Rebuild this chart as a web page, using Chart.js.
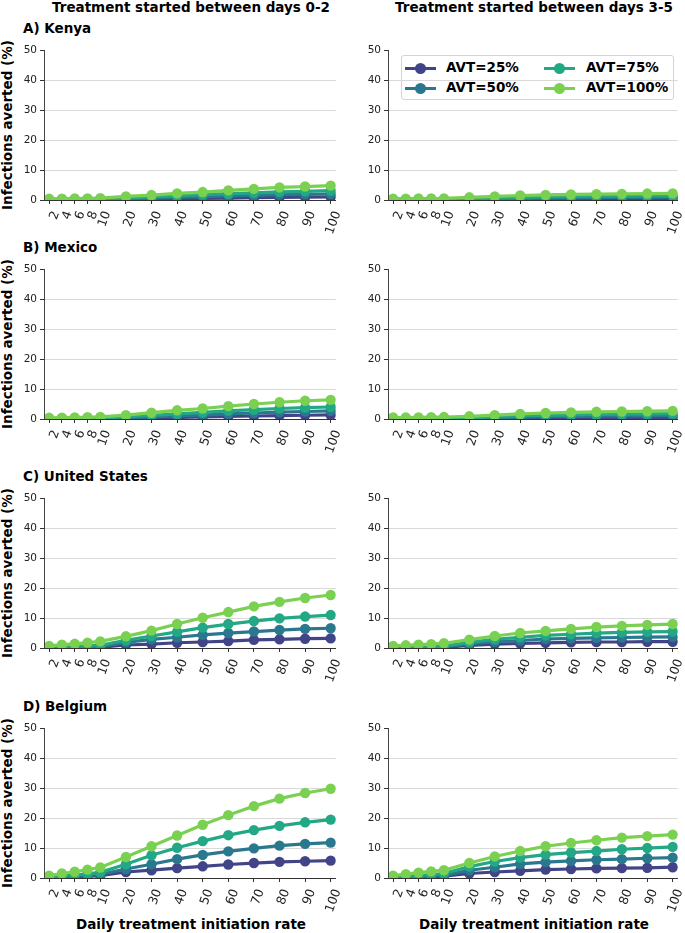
<!DOCTYPE html>
<html>
<head>
<meta charset="utf-8">
<script src="https://cdn.jsdelivr.net/npm/chart.js@4.4.1/dist/chart.umd.min.js"></script>
<style>
    body { margin: 0; width: 685px; height: 933px; position: relative; overflow: hidden; background: #fff; font-family: "DejaVu Sans", sans-serif; color: #000; }
    .lbl { position: absolute; font-weight: bold; font-size: 13.5px; white-space: nowrap; line-height: 1; transform: translate(-50%, -50%); }
    .panel-lbl { position: absolute; font-weight: bold; font-size: 13.5px; white-space: nowrap; line-height: 1; transform: translateY(-50%); }
    .panel { position: absolute; }
    #legend { position: absolute; left: 401px; top: 55px; width: 271px; height: 43px; border: 1px solid #d4d4d4; border-radius: 3px; background: rgba(255,255,255,0.85); }
    .leg-line { position: absolute; height: 3px; width: 31px; }
    .leg-dot { position: absolute; width: 11px; height: 11px; border-radius: 50%; left: 10px; top: -4px; }
    .leg-txt { position: absolute; font-weight: bold; font-size: 13.5px; line-height: 1; white-space: nowrap; transform: translateY(-50%); }
</style>
</head>
<body>
<div id="legend"></div>
<script>
// x categories (daily treatment initiation rate) and tick labels
const rates = [2, 4, 6, 8, 10, 20, 30, 40, 50, 60, 70, 80, 90, 100];
const rateLabels = rates.map(String);
const yTicks = [0, 10, 20, 30, 40, 50];

const seriesNames = ['AVT=25%', 'AVT=50%', 'AVT=75%', 'AVT=100%'];
const seriesColors = ['#414487', '#2a788e', '#22a884', '#7ad151'];

const colTitles = ['Treatment started between days 0-2', 'Treatment started between days 3-5'];
const rowTitles = ['A) Kenya', 'B) Mexico', 'C) United States', 'D) Belgium'];

// infections averted (%) — one row per AVT level
const kenya02 = [
    [0, 0.05, 0.05, 0.1, 0.1, 0.2, 0.3, 0.4, 0.55, 0.65, 0.75, 0.85, 0.95, 1.0],
    [0.05, 0.1, 0.1, 0.15, 0.2, 0.4, 0.6, 0.9, 1.1, 1.4, 1.6, 1.8, 1.9, 2.0],
    [0.1, 0.15, 0.2, 0.25, 0.3, 0.6, 1.0, 1.4, 1.8, 2.1, 2.4, 2.7, 2.9, 3.1],
    [0.4, 0.45, 0.5, 0.55, 0.6, 1.2, 1.65, 2.2, 2.65, 3.2, 3.7, 4.2, 4.5, 4.8]
];
const kenya35 = [
    [0, 0.02, 0.03, 0.04, 0.05, 0.1, 0.2, 0.25, 0.3, 0.35, 0.4, 0.4, 0.45, 0.45],
    [0.03, 0.05, 0.05, 0.08, 0.1, 0.25, 0.4, 0.5, 0.6, 0.7, 0.8, 0.85, 0.9, 0.95],
    [0.05, 0.1, 0.1, 0.15, 0.15, 0.4, 0.6, 0.8, 1.0, 1.1, 1.2, 1.3, 1.35, 1.4],
    [0.45, 0.45, 0.5, 0.5, 0.55, 0.9, 1.2, 1.5, 1.7, 1.85, 1.95, 2.05, 2.15, 2.2]
];
const mexico02 = [
    [0, 0.03, 0.05, 0.07, 0.1, 0.2, 0.35, 0.5, 0.7, 0.85, 1.0, 1.15, 1.25, 1.35],
    [0.05, 0.1, 0.1, 0.15, 0.2, 0.4, 0.7, 1.0, 1.3, 1.7, 2.0, 2.3, 2.5, 2.7],
    [0.1, 0.15, 0.2, 0.25, 0.3, 0.7, 1.2, 1.7, 2.2, 2.7, 3.1, 3.5, 3.8, 4.0],
    [0.4, 0.45, 0.5, 0.6, 0.7, 1.3, 2.1, 2.9, 3.5, 4.3, 5.0, 5.6, 6.1, 6.4]
];
const mexico35 = [
    [0, 0.02, 0.03, 0.05, 0.06, 0.12, 0.2, 0.3, 0.35, 0.4, 0.45, 0.5, 0.5, 0.55],
    [0.03, 0.05, 0.07, 0.1, 0.12, 0.25, 0.45, 0.6, 0.75, 0.85, 0.95, 1.0, 1.05, 1.1],
    [0.05, 0.1, 0.1, 0.15, 0.2, 0.4, 0.7, 1.0, 1.2, 1.4, 1.5, 1.6, 1.7, 1.8],
    [0.5, 0.5, 0.55, 0.6, 0.65, 0.9, 1.3, 1.7, 2.0, 2.2, 2.4, 2.5, 2.6, 2.7]
];
const usa02 = [
    [0.05, 0.1, 0.15, 0.2, 0.25, 1.0, 1.3, 1.75, 2.0, 2.3, 2.7, 2.9, 3.1, 3.2],
    [0.1, 0.2, 0.3, 0.4, 0.5, 1.9, 2.9, 3.6, 4.4, 5.0, 5.5, 6.0, 6.4, 6.6],
    [0.2, 0.35, 0.5, 0.7, 0.9, 2.6, 4.0, 5.4, 6.8, 8.0, 9.0, 9.9, 10.5, 11.0],
    [0.7, 1.1, 1.4, 1.8, 2.2, 3.9, 5.8, 8.0, 10.1, 12.0, 13.9, 15.4, 16.7, 17.7]
];
const usa35 = [
    [0, 0.05, 0.1, 0.15, 0.2, 0.9, 1.3, 1.5, 1.7, 1.9, 2.0, 2.0, 2.1, 2.1],
    [0.05, 0.1, 0.2, 0.3, 0.4, 1.4, 2.1, 2.5, 3.0, 3.2, 3.4, 3.5, 3.6, 3.7],
    [0.1, 0.2, 0.3, 0.4, 0.6, 1.9, 2.9, 3.6, 4.2, 4.6, 5.0, 5.2, 5.4, 5.5],
    [0.7, 0.9, 1.1, 1.3, 1.6, 2.8, 4.0, 5.0, 5.7, 6.4, 7.0, 7.4, 7.7, 8.0]
];
const belgium02 = [
    [0.1, 0.2, 0.4, 0.6, 0.8, 2.0, 2.6, 3.3, 3.9, 4.5, 5.0, 5.4, 5.6, 5.8],
    [0.2, 0.4, 0.6, 0.9, 1.2, 3.0, 4.6, 6.3, 7.7, 8.9, 9.9, 10.8, 11.4, 11.8],
    [0.3, 0.6, 1.0, 1.4, 1.9, 4.6, 7.6, 10.1, 12.3, 14.3, 16.0, 17.4, 18.6, 19.5],
    [0.8, 1.5, 2.1, 2.8, 3.5, 7.0, 10.6, 14.2, 17.8, 21.0, 24.0, 26.5, 28.4, 29.8]
];
const belgium35 = [
    [0.1, 0.2, 0.3, 0.4, 0.6, 1.5, 2.0, 2.4, 2.8, 3.0, 3.2, 3.3, 3.4, 3.6],
    [0.1, 0.3, 0.5, 0.7, 0.9, 2.6, 3.6, 4.7, 5.3, 5.7, 6.1, 6.3, 6.6, 6.8],
    [0.3, 0.5, 0.8, 1.1, 1.5, 3.8, 5.5, 6.8, 7.8, 8.5, 9.0, 9.6, 10.0, 10.4],
    [0.8, 1.3, 1.8, 2.2, 2.6, 5.0, 7.2, 9.0, 10.6, 11.7, 12.6, 13.5, 14.0, 14.5]
];

const panelData = [
    [kenya02, kenya35],
    [mexico02, mexico35],
    [usa02, usa35],
    [belgium02, belgium35]
];

// layout of the plot areas
const plotTops = [49, 268, 497, 727];
const plotH = 151;
const axisX = [44, 388];
const plotW = [294, 292];
const yAxisW = 44, xAxisH = 42, padTop = 8, padRight = 12;

// the first five rates sit at half spacing on the axis
function ratePos(r) {
    return r <= 10 ? r / 2 : 5 + (r - 10) / 5;
}

function addText(cls, text, x, y, rotate) {
    const d = document.createElement('div');
    d.className = cls;
    d.textContent = text;
    d.style.left = x + 'px';
    d.style.top = y + 'px';
    if (rotate) d.style.transform = 'translate(-50%, -50%) rotate(-90deg)';
    document.body.appendChild(d);
}

const tickFont = { family: 'DejaVu Sans', size: 10.5 };
const xTickFont = { family: 'DejaVu Sans', size: 12.5 };

colTitles.forEach((t, c) => addText('lbl', t, axisX[c] + plotW[c] / 2, 8));
rowTitles.forEach((t, r) => {
    addText('panel-lbl', t, 23, plotTops[r] - 20);
    addText('lbl', 'Infections averted (%)', 8, plotTops[r] + plotH / 2, true);
});
[0, 1].forEach(c => addText('lbl', 'Daily treatment initiation rate', axisX[c] + plotW[c] / 2, 925));

panelData.forEach((row, r) => {
    row.forEach((values, c) => {
        const wrap = document.createElement('div');
        wrap.className = 'panel';
        wrap.style.left = (axisX[c] - yAxisW) + 'px';
        wrap.style.top = (plotTops[r] - padTop) + 'px';
        wrap.style.width = (yAxisW + plotW[c] + padRight) + 'px';
        wrap.style.height = (padTop + plotH + xAxisH) + 'px';
        const canvas = document.createElement('canvas');
        wrap.appendChild(canvas);
        document.body.appendChild(wrap);

        new Chart(canvas, {
            type: 'line',
            data: {
                datasets: values.map((vals, i) => ({
                    label: seriesNames[i],
                    data: vals.map((v, k) => ({ x: ratePos(rates[k]), y: v })),
                    borderColor: seriesColors[i],
                    backgroundColor: seriesColors[i],
                    pointBackgroundColor: seriesColors[i],
                    pointBorderWidth: 0,
                    pointRadius: 5.2,
                    borderWidth: 3.2,
                    tension: 0,
                    clip: 0,
                    order: -i
                }))
            },
            options: {
                responsive: true,
                maintainAspectRatio: false,
                animation: false,
                events: [],
                layout: { padding: { top: padTop, right: padRight, left: 0, bottom: 0 } },
                plugins: { legend: { display: false }, title: { display: false }, tooltip: { enabled: false } },
                scales: {
                    x: {
                        type: 'linear',
                        min: 0.6,
                        max: 23.4,
                        afterBuildTicks: s => { s.ticks = rates.map(v => ({ value: ratePos(v) })); },
                        afterFit: s => { s.height = xAxisH; },
                        grid: { drawOnChartArea: false, drawTicks: true, tickLength: 4, tickColor: '#333' },
                        border: { display: true, color: '#333', width: 1, z: 1 },
                        ticks: {
                            autoSkip: false,
                            minRotation: 70,
                            maxRotation: 70,
                            padding: 5,
                            labelOffset: 7,
                            color: '#222',
                            font: xTickFont,
                            callback: (v, idx) => rateLabels[idx]
                        }
                    },
                    y: {
                        min: 0,
                        max: 50,
                        afterBuildTicks: s => { s.ticks = yTicks.map(v => ({ value: v })); },
                        afterFit: s => { s.width = yAxisW; },
                        grid: {
                            color: ctx => (ctx.tick && (ctx.tick.value === 0 || ctx.tick.value === 50)) ? 'rgba(0,0,0,0)' : '#d9d9d9',
                            tickColor: '#333',
                            tickLength: 4,
                            lineWidth: 1
                        },
                        border: { display: true, color: '#444', width: 1, z: 1 },
                        ticks: { padding: 3, color: '#222', font: tickFont }
                    }
                }
            }
        });
    });
});

// legend inside the top-right panel, two columns
const legend = document.getElementById('legend');
seriesNames.forEach((name, i) => {
    const col = Math.floor(i / 2), row = i % 2;
    const cy = 12 + row * 20;
    const line = document.createElement('div');
    line.className = 'leg-line';
    line.style.left = (3 + col * 139) + 'px';
    line.style.top = (cy - 1.5) + 'px';
    line.style.background = seriesColors[i];
    const dot = document.createElement('div');
    dot.className = 'leg-dot';
    dot.style.background = seriesColors[i];
    line.appendChild(dot);
    legend.appendChild(line);
    const txt = document.createElement('div');
    txt.className = 'leg-txt';
    txt.textContent = name;
    txt.style.left = (44 + col * 140) + 'px';
    txt.style.top = cy + 'px';
    legend.appendChild(txt);
});
</script>
</body>
</html>
